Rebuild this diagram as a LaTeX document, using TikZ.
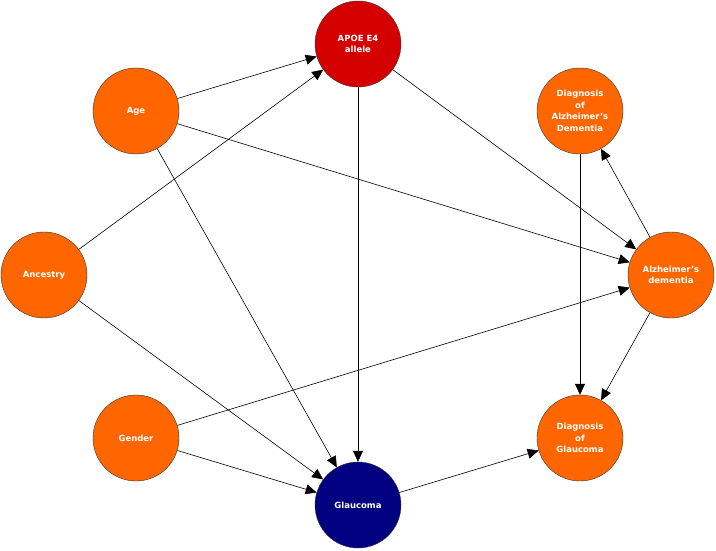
\documentclass[tikz,border=0pt]{standalone}
\usepackage{fontspec}
\setmainfont{DejaVu Sans}
\usetikzlibrary{arrows.meta}
\definecolor{dagorange}{HTML}{FF6600}
\definecolor{dagred}{HTML}{D40000}
\definecolor{dagnavy}{HTML}{000080}

\begin{document}
\begin{tikzpicture}[x=1pt, y=-1pt,
    var/.style={circle, draw=black!80, thin, fill=dagorange, minimum size=86pt, inner sep=0pt,
        text=white, font=\fontsize{8.5}{11.5}\selectfont\bfseries, align=center},
    edge/.style={-{Triangle[length=11pt,width=10pt]}, semithick}]
    \useasboundingbox (0,0) rectangle (716,550);

    % Variables
    \node[var, fill=dagred] (apoe) at (358,44) {APOE E4\\allele};
    \node[var] (age) at (136,111) {Age};
    \node[var] (diagad) at (580,111) {Diagnosis\\of\\Alzheimer's\\Dementia};
    \node[var] (ancestry) at (44,275) {Ancestry};
    \node[var] (ad) at (671,275) {Alzheimer's\\dementia};
    \node[var] (gender) at (136,438) {Gender};
    \node[var] (diaggl) at (580,438) {Diagnosis\\of\\Glaucoma};
    \node[var, fill=dagnavy] (glaucoma) at (358,505) {Glaucoma};

    % Arrows
    \draw[edge] (age) -- (apoe);
    \draw[edge] (age) -- (ad);
    \draw[edge] (age) -- (glaucoma);
    \draw[edge] (ancestry) -- (apoe);
    \draw[edge] (ancestry) -- (glaucoma);
    \draw[edge] (apoe) -- (glaucoma);
    \draw[edge] (apoe) -- (ad);
    \draw[edge] (gender) -- (ad);
    \draw[edge] (gender) -- (glaucoma);
    \draw[edge] (ad) -- (diagad);
    \draw[edge] (ad) -- (diaggl);
    \draw[edge] (diagad) -- (diaggl);
    \draw[edge] (glaucoma) -- (diaggl);
\end{tikzpicture}
\end{document}
